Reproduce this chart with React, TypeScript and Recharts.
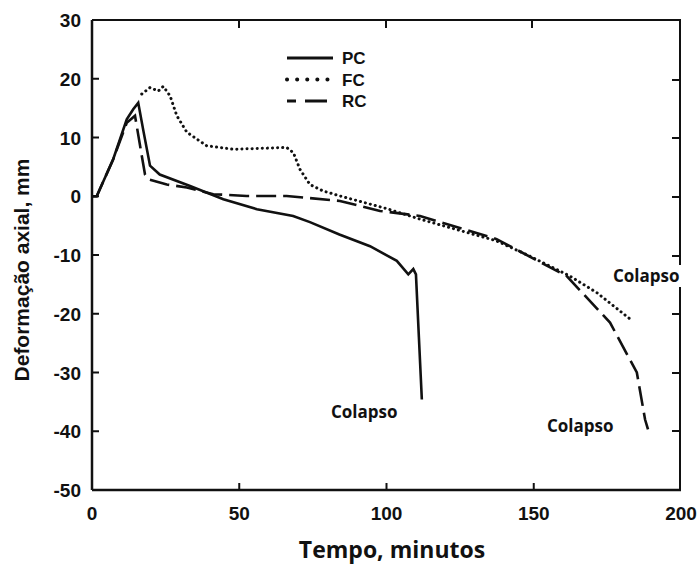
import { LineChart, Line, XAxis, YAxis, Legend } from 'recharts';

// Deformação axial (mm) vs tempo (min)
const pcTime = [0, 1.6, 7.2, 11.8, 14, 15.7, 17.5, 19.7, 23, 33.3, 44.6, 56, 68.3, 74, 84, 94.4, 103.5, 107.4, 109.1, 110, 111, 112];
const pcDef = [0, 0, 6.3, 13.1, 14.8, 15.9, 11, 5.2, 3.7, 1.75, -0.5, -2.2, -3.35, -4.4, -6.5, -8.5, -11, -13.3, -12.4, -13.3, -24, -34.6];

const fcTime = [16.9, 19.7, 22.5, 24.2, 26.5, 28.8, 32.2, 38.9, 48, 66.1, 68.4, 70.6, 74, 78.5, 84.2, 100, 111.4, 137.4, 148.7, 162.3, 171.4, 182.7];
const fcDef = [17.4, 18.5, 17.9, 18.7, 17.1, 13.7, 10.9, 8.6, 8, 8.3, 7.4, 4.6, 2, 0.9, 0.05, -2.1, -3.9, -7.6, -10.2, -13.6, -16.4, -20.9];

const rcTime = [0, 1.6, 7.2, 11.8, 14.6, 16.9, 18, 19.1, 25.4, 32.2, 41.2, 52.5, 66.1, 84.2, 97.8, 111.4, 137.4, 161.2, 175.9, 185, 187.8, 188.8];
const rcDef = [0, 0, 6.3, 12.5, 13.7, 6.9, 3.7, 2.9, 2, 1.5, 0.35, 0.05, 0.05, -0.8, -2.5, -3.35, -7.3, -13.6, -21.5, -30, -38, -39.7];

const xTicks = [0, 50, 100, 150, 200];
const yTicks = [30, 20, 10, 0, -10, -20, -30, -40, -50];
const innerXTicks = [50, 100, 150];
const innerYTicks = [20, 10, 0, -10, -20, -30, -40];

const seriesNames = ['PC', 'FC', 'RC'];

const X_MIN = 0;
const X_MAX = 200;
const Y_MIN = -50;
const Y_MAX = 30;

// chart box
const W = 700;
const H = 565;
const M = { top: 20, right: 19, bottom: 0, left: 0 };
const Y_AXIS_W = 92;
const X_AXIS_H = 75;
const PLOT_W = W - M.left - Y_AXIS_W - M.right;
const PLOT_H = H - M.top - M.bottom - X_AXIS_H;

const toRows = (t: number[], d: number[]) => t.map((tempo, i) => ({ tempo, def: d[i] }));
const pcData = toRows(pcTime, pcDef);
const fcData = toRows(fcTime, fcDef);
const rcData = toRows(rcTime, rcDef);

const INK = '#111';
const TICK_FONT = { fontFamily: 'Liberation Sans, Arial, sans-serif', fontWeight: 700, fontSize: 19, fill: INK };

function LeftTick({ x, y, payload }: any) {
  const v = payload.value;
  return (
    <g>
      {innerYTicks.includes(v) && <line x1={x} x2={x + 7} y1={y} y2={y} stroke={INK} strokeWidth={2} />}
      <text x={x - 11} y={y} dy={7} textAnchor="end" {...TICK_FONT}>{v}</text>
    </g>
  );
}

function BottomTick({ x, y, payload }: any) {
  const v = payload.value;
  return (
    <g>
      {innerXTicks.includes(v) && <line x1={x} x2={x} y1={y} y2={y - 7} stroke={INK} strokeWidth={2} />}
      <text x={x} y={y + 30} textAnchor="middle" {...TICK_FONT}>{v}</text>
    </g>
  );
}

// top and right borders of the plot box with inward ticks (html overlay)
function Frame() {
  const pctX = (v: number) => `${((v - X_MIN) / (X_MAX - X_MIN)) * 100}%`;
  const pctY = (v: number) => `${((Y_MAX - v) / (Y_MAX - Y_MIN)) * 100}%`;
  return (
    <div style={{
      position: 'absolute', left: M.left + Y_AXIS_W, top: M.top - 1, width: PLOT_W, height: PLOT_H + 1,
      borderTop: `2.5px solid ${INK}`, borderRight: `2.5px solid ${INK}`, boxSizing: 'border-box',
      pointerEvents: 'none',
    }}>
      {innerXTicks.map((t) => (
        <div key={`tx${t}`} style={{ position: 'absolute', left: pctX(t), top: 0, width: 2, height: 7, marginLeft: -1, background: INK }} />
      ))}
      {innerYTicks.map((t) => (
        <div key={`ty${t}`} style={{ position: 'absolute', right: 0, top: pctY(t), width: 7, height: 2, marginTop: -1, background: INK }} />
      ))}
    </div>
  );
}

function LegendBox() {
  const rows = [
    { name: seriesNames[0], dash: undefined, cap: 'butt' as const },
    { name: seriesNames[1], dash: '0.1 10', cap: 'round' as const },
    { name: seriesNames[2], dash: '9 9 22 100', cap: 'butt' as const },
  ];
  return (
    <svg width={110} height={70} style={{ display: 'block' }}>
      {rows.map((r, i) => (
        <g key={r.name}>
          <line x1={2} x2={48} y1={10 + i * 21.5} y2={10 + i * 21.5} stroke={INK}
            strokeWidth={r.cap === 'round' ? 4 : 3} strokeDasharray={r.dash} strokeLinecap={r.cap} />
          <text x={57} y={16 + i * 21.5} {...TICK_FONT} fontSize={17}>{r.name}</text>
        </g>
      ))}
    </svg>
  );
}

const labelStyle: React.CSSProperties = {
  position: 'absolute',
  fontFamily: '"Open Sans", sans-serif',
  fontWeight: 700,
  fontSize: 17,
  color: INK,
  background: '#fff',
  lineHeight: '22px',
  padding: '0 1px',
};

export default function App() {
  return (
    <div style={{ position: 'absolute', left: 0, top: 0, width: W, height: H, background: '#fff' }}>
      <LineChart width={W} height={H} margin={M}>
        <XAxis dataKey="tempo" type="number" domain={[X_MIN, X_MAX]} ticks={xTicks} height={X_AXIS_H}
          allowDuplicatedCategory={false} tickSize={0} tickMargin={0} tick={<BottomTick />}
          axisLine={{ stroke: INK, strokeWidth: 2.5 }} />
        <YAxis dataKey="def" type="number" domain={[Y_MIN, Y_MAX]} ticks={yTicks} width={Y_AXIS_W}
          tickSize={0} tickMargin={0} tick={<LeftTick />} interval={0}
          axisLine={{ stroke: INK, strokeWidth: 2.5 }} />
        <Legend layout="vertical" align="center" verticalAlign="middle" content={<LegendBox />}
          wrapperStyle={{ left: 285, top: 48, width: 110, height: 70 }} />

        <Line data={pcData} dataKey="def" name="PC" type="linear" stroke={INK} strokeWidth={2.6}
          dot={false} isAnimationActive={false} />
        <Line data={fcData} dataKey="def" name="FC" type="linear" stroke={INK} strokeWidth={3}
          strokeDasharray="0.1 5" strokeLinecap="round" dot={false} isAnimationActive={false} />
        <Line data={rcData} dataKey="def" name="RC" type="linear" stroke={INK} strokeWidth={2.6}
          strokeDasharray="20 7" dot={false} isAnimationActive={false} />
      </LineChart>

      <Frame />

      <div style={{
        position: 'absolute', left: 22, top: 270, transform: 'translate(-50%, -50%) rotate(-90deg)',
        whiteSpace: 'nowrap', fontFamily: 'Liberation Sans, Arial, sans-serif', fontWeight: 700,
        fontSize: 21, color: INK,
      }}>
        Deformação axial, mm
      </div>
      <div style={{
        position: 'absolute', left: 392, top: 549, transform: 'translate(-50%, -50%)',
        whiteSpace: 'nowrap', fontFamily: '"Open Sans", sans-serif', fontWeight: 700,
        fontSize: 23, color: INK,
      }}>
        Tempo, minutos
      </div>

      <div style={{ ...labelStyle, left: 330, top: 401 }}>Colapso</div>
      <div style={{ ...labelStyle, left: 546, top: 415 }}>Colapso</div>
      <div style={{ ...labelStyle, left: 612, top: 265 }}>Colapso</div>
    </div>
  );
}
